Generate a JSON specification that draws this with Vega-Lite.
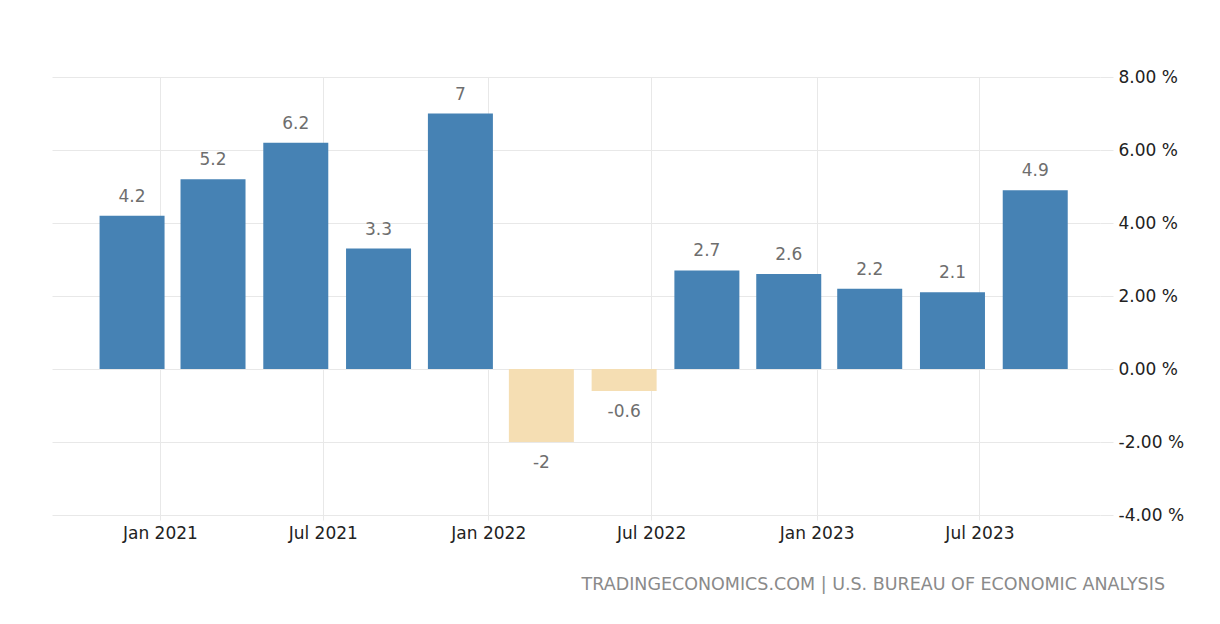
{
  "$schema": "https://vega.github.io/schema/vega-lite/v6.json",
  "width": 1048,
  "height": 438,
  "padding": {"left": 52, "top": 68, "right": 5, "bottom": 5},
  "background": "white",
  "config": {"view": {"stroke": null}, "font": "DejaVu Sans"},
  "title": {
    "text": "TRADINGECONOMICS.COM | U.S. BUREAU OF ECONOMIC ANALYSIS",
    "orient": "bottom",
    "anchor": "end",
    "frame": "group",
    "dx": 65,
    "offset": 35,
    "fontSize": 17.5,
    "fontWeight": "normal",
    "color": "#8a8a8a",
    "font": "DejaVu Sans"
  },
  "data": {
    "values": [
      {"date": "2020-12-01", "value": 4.2},
      {"date": "2021-03-01", "value": 5.2},
      {"date": "2021-06-01", "value": 6.2},
      {"date": "2021-09-01", "value": 3.3},
      {"date": "2021-12-01", "value": 7.0},
      {"date": "2022-03-01", "value": -2.0},
      {"date": "2022-06-01", "value": -0.6},
      {"date": "2022-09-01", "value": 2.7},
      {"date": "2022-12-01", "value": 2.6},
      {"date": "2023-03-01", "value": 2.2},
      {"date": "2023-06-01", "value": 2.1},
      {"date": "2023-09-01", "value": 4.9}
    ]
  },
  "encoding": {
    "x": {
      "field": "date",
      "type": "temporal",
      "title": null,
      "scale": {
        "type": "utc",
        "padding": 0,
        "domain": [
          {"year": 2020, "month": 9, "date": 3, "utc": true},
          {"year": 2023, "month": 11, "date": 12, "utc": true}
        ]
      },
      "axis": {
        "values": [
          {"year": 2021, "month": 1, "date": 1, "utc": true},
          {"year": 2021, "month": 7, "date": 1, "utc": true},
          {"year": 2022, "month": 1, "date": 1, "utc": true},
          {"year": 2022, "month": 7, "date": 1, "utc": true},
          {"year": 2023, "month": 1, "date": 1, "utc": true},
          {"year": 2023, "month": 7, "date": 1, "utc": true}
        ],
        "labelExpr": "utcFormat(datum.value, '%b %Y')",
        "grid": true,
        "gridColor": "#e8e8e8",
        "domain": false,
        "ticks": true,
        "tickSize": 5,
        "tickColor": "#e8e8e8",
        "labelFontSize": 17,
        "labelColor": "#222222",
        "labelPadding": 5,
        "labelFont": "DejaVu Sans"
      }
    },
    "y": {
      "field": "value",
      "type": "quantitative",
      "title": null,
      "scale": {"domain": [-4, 8], "nice": false, "zero": false},
      "axis": {
        "orient": "right",
        "values": [-4, -2, 0, 2, 4, 6, 8],
        "labelExpr": "replace(format(datum.value, '.2f'), '\u2212', '-') + ' %'",
        "grid": true,
        "gridColor": "#e8e8e8",
        "domain": false,
        "ticks": true,
        "tickSize": 13,
        "tickColor": "#e8e8e8",
        "labelFontSize": 17,
        "labelColor": "#222222",
        "labelPadding": 5,
        "labelFont": "DejaVu Sans"
      }
    }
  },
  "layer": [
    {
      "mark": {"type": "bar", "width": 65},
      "encoding": {
        "color": {
          "condition": {"test": "datum.value < 0", "value": "#F5DEB3"},
          "value": "#4682B4"
        }
      }
    },
    {
      "transform": [{"filter": "datum.value >= 0"}],
      "mark": {"type": "text", "dy": -14, "baseline": "alphabetic", "fontSize": 17, "color": "#6e6e6e", "font": "DejaVu Sans"},
      "encoding": {"text": {"field": "value", "type": "nominal"}}
    },
    {
      "transform": [{"filter": "datum.value < 0"}],
      "mark": {"type": "text", "dy": 26, "baseline": "alphabetic", "fontSize": 17, "color": "#6e6e6e", "font": "DejaVu Sans"},
      "encoding": {"text": {"field": "value", "type": "nominal"}}
    }
  ]
}
